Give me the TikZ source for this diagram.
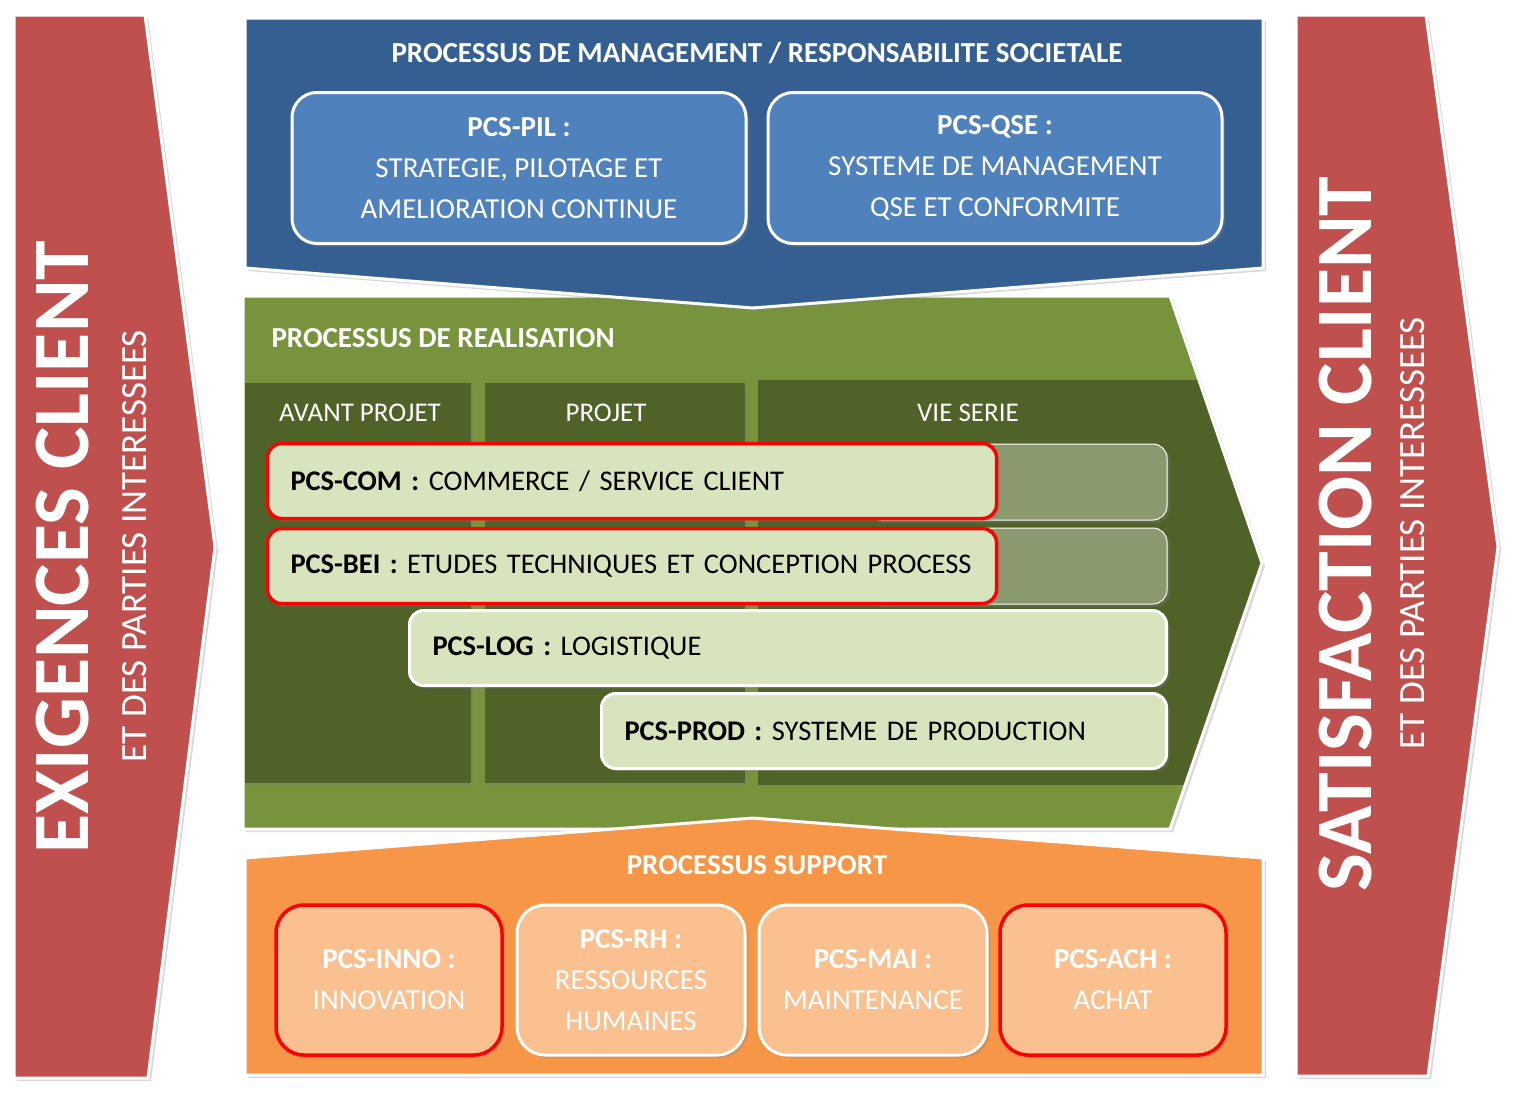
\documentclass[tikz,border=0pt]{standalone}
\usepackage{fontspec}
\setmainfont{Carlito}
\usetikzlibrary{shadows, positioning}
\definecolor{arrowred}{RGB}{192,80,77}
\definecolor{mgtblue}{RGB}{54,95,145}
\definecolor{boxblue}{RGB}{79,129,189}
\definecolor{realgreen}{RGB}{119,147,60}
\definecolor{darkgreen}{RGB}{79,98,40}
\definecolor{bargreen}{RGB}{215,228,189}
\definecolor{greybar}{RGB}{139,153,110}
\definecolor{suporange}{RGB}{247,150,70}
\definecolor{boxorange}{RGB}{250,192,144}

\begin{document}
\begin{tikzpicture}[x=1pt, y=-1pt,
    softshadow/.style={drop shadow={opacity=0.3, shadow xshift=3pt, shadow yshift=-3pt}},
    bigshape/.style={draw=white, line width=3pt, softshadow},
    title/.style={text=white, font=\fontsize{29}{33}\selectfont\bfseries},
    colhead/.style={text=white, font=\fontsize{27}{30}\selectfont},
    bluebox/.style={rectangle, rounded corners=25pt, fill=boxblue, draw=white, line width=3pt,
        minimum width=454pt, minimum height=151pt, align=center, text=white,
        font=\fontsize{29}{41}\selectfont, softshadow},
    lgbar/.style={rectangle, rounded corners=14pt, fill=bargreen, draw=white, line width=3pt,
        minimum height=75pt, inner xsep=23pt, text width=#1, align=left,
        font=\fontsize{28.5}{32}\selectfont, softshadow},
    redbar/.style={lgbar=#1, draw=red, line width=3.5pt},
    endbar/.style={rectangle, rounded corners=14pt, fill=greybar, draw=white, line width=1pt,
        minimum width=300pt, minimum height=76pt, softshadow},
    orbox/.style={rectangle, rounded corners=28pt, fill=boxorange, draw=white, line width=3pt,
        minimum width=226pt, minimum height=150pt, align=center, text=white,
        font=\fontsize{29}{41}\selectfont, softshadow},
    redorbox/.style={orbox, draw=red, line width=3.5pt}]
\useasboundingbox (0,0) rectangle (1517,1093);

% side arrows
\fill[arrowred, bigshape] (14,15) -- (145,15) -- (215,547) -- (148,1078) -- (14,1078) -- cycle;
\fill[arrowred, bigshape] (1296,15) -- (1426,15) -- (1498,547) -- (1428,1076) -- (1296,1076) -- cycle;
\node[rotate=90, text=white, font=\fontsize{80}{90}\selectfont\bfseries] (exig) at (63,547) {EXIGENCES CLIENT};
\node[rotate=90, text=white, font=\fontsize{37}{40}\selectfont] (exigpi) at (135,546) {ET DES PARTIES INTERESSEES};
\node[rotate=90, text=white, font=\fontsize{80}{90}\selectfont\bfseries] (satis) at (1346,534) {SATISFACTION CLIENT};
\node[rotate=90, text=white, font=\fontsize{37}{40}\selectfont] (satispi) at (1413,533) {ET DES PARTIES INTERESSEES};

% realisation
\fill[realgreen, softshadow] (243,296) -- (1170,296) -- (1262,563) -- (1170,829) -- (243,829) -- cycle;
\fill[darkgreen, softshadow] (245,383) rectangle (471,783);
\fill[darkgreen, softshadow] (485,383) rectangle (745,783);
\begin{scope}
    \clip (243,296) -- (1170,296) -- (1262,563) -- (1170,829) -- (243,829) -- cycle;
    \fill[darkgreen] (758,380) rectangle (1300,785);
\end{scope}
\draw[white, line width=3pt] (243,296) -- (1170,296) -- (1262,563) -- (1170,829) -- (243,829) -- cycle;
\node[title, anchor=west] (real) at (268,338) {PROCESSUS DE REALISATION};
\node[colhead] (avant) at (360,413) {AVANT PROJET};
\node[colhead] (projet) at (606,413) {PROJET};
\node[colhead] (serie) at (968,413) {VIE SERIE};

\node[endbar] (comend) at (1017,482) {};
\node[endbar] (beiend) at (1017,566) {};
\node[redbar=683pt] (com) at (632,481) {\textbf{PCS-COM :} COMMERCE / SERVICE CLIENT};
\node[redbar=683pt] (bei) at (632,566) {\textbf{PCS-BEI :} ETUDES TECHNIQUES ET CONCEPTION PROCESS};
\node[lgbar=711pt] (log) at (788,648) {\textbf{PCS-LOG :} LOGISTIQUE};
\node[lgbar=519pt] (prod) at (884,731) {\textbf{PCS-PROD :} SYSTEME DE PRODUCTION};

% management
\fill[mgtblue, bigshape] (245,18) -- (1263,18) -- (1263,268) -- (753,308) -- (245,268) -- cycle;
\node[title] (mgt) at (757,53) {PROCESSUS DE MANAGEMENT / RESPONSABILITE SOCIETALE};
\node[bluebox] (pil) at (519,168) {\textbf{PCS-PIL :}\\STRATEGIE, PILOTAGE ET\\AMELIORATION CONTINUE};
\node[bluebox] (qse) at (995,168) {\textbf{PCS-QSE :}\\SYSTEME DE MANAGEMENT\\QSE ET CONFORMITE};

% support
\fill[suporange, bigshape] (245,858) -- (753,818) -- (1263,858) -- (1263,1075) -- (245,1075) -- cycle;
\node[title] (sup) at (757,865) {PROCESSUS SUPPORT};
\node[redorbox] (inno) at (389,980) {\textbf{PCS-INNO :}\\INNOVATION};
\node[orbox, minimum width=228pt] (rh) at (631,980) {\textbf{PCS-RH :}\\RESSOURCES\\HUMAINES};
\node[orbox, minimum width=228pt] (mai) at (873,980) {\textbf{PCS-MAI :}\\MAINTENANCE};
\node[redorbox] (ach) at (1113,980) {\textbf{PCS-ACH :}\\ACHAT};
\end{tikzpicture}
\end{document}
